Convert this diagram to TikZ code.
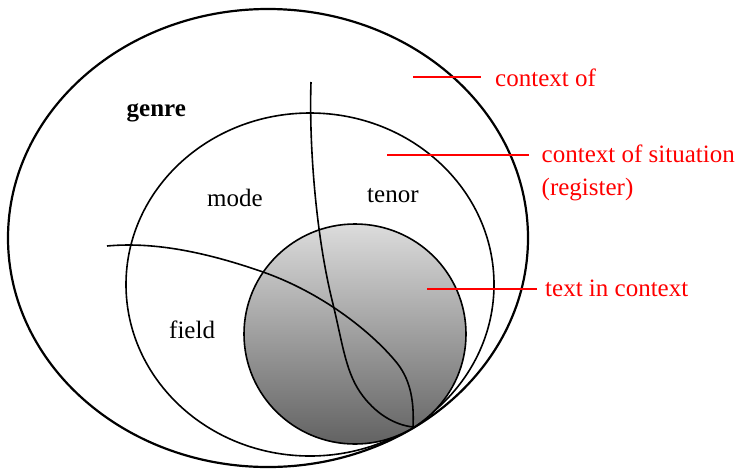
\documentclass[tikz,border=0pt]{standalone}
\usepackage{fontspec}
\setmainfont{Liberation Serif}
\begin{document}
\begin{tikzpicture}[x=1pt,y=-1pt,
  lbl/.style={font=\fontsize{25}{33}\selectfont, inner sep=0pt, anchor=base west},
  redlbl/.style={lbl, text=red, align=left},
  redline/.style={draw=red, line width=1.8pt},
  ring/.style={draw=black, line width=1.6pt},
  divider/.style={draw=black, line width=1.6pt}]
\useasboundingbox (0,0) rectangle (743,469);
% outer ellipse (context of culture)
\draw[line width=2.2pt] (268,238) ellipse [x radius=260pt, y radius=229pt];
% middle ellipse (context of situation)
\draw[ring] (310,284.5) ellipse [x radius=184pt, y radius=171.5pt];
% shaded circle (text)
\shade[top color={rgb,255:red,220;green,220;blue,220}, bottom color={rgb,255:red,98;green,98;blue,98}]
  (355,334) ellipse [x radius=111pt, y radius=110pt];
\draw[ring] (355,334) ellipse [x radius=111pt, y radius=110pt];
% dividing curves
\coordinate (v0) at (311,82);
\coordinate (h0) at (107,246);
\coordinate (tip) at (413,427);
\draw[divider] (v0) .. controls (309,140) and (315,230) .. (332,300)
  .. controls (342,340) and (345,370) .. (360,392)
  .. controls (375,414) and (395,425) .. (tip);
\draw[divider] (h0) .. controls (150,242) and (200,250) .. (263,272)
  .. controls (320,292) and (370,330) .. (397,363)
  .. controls (412,382) and (414,405) .. (tip);
% labels
\node[lbl, font=\fontsize{25}{33}\selectfont\bfseries] (genre) at (126.5,116.5) {genre};
\node[lbl] (mode) at (207,206) {mode};
\node[lbl] (tenor) at (367,202.5) {tenor};
\node[lbl] (field) at (169,338) {field};
\node[redlbl] (culture) at (495,86) {context of};
\node[redlbl] (situation) at (541.5,195) {context of situation\\(register)};
\node[redlbl] (text) at (545,296) {text in context};
% red pointer lines
\coordinate (p1) at (413,77);
\coordinate (q1) at (481,77);
\coordinate (p2) at (387,155);
\coordinate (q2) at (529,155);
\coordinate (p3) at (427,289);
\coordinate (q3) at (537,289);
\draw[redline] (p1) -- (q1);
\draw[redline] (p2) -- (q2);
\draw[redline] (p3) -- (q3);
\end{tikzpicture}
\end{document}
